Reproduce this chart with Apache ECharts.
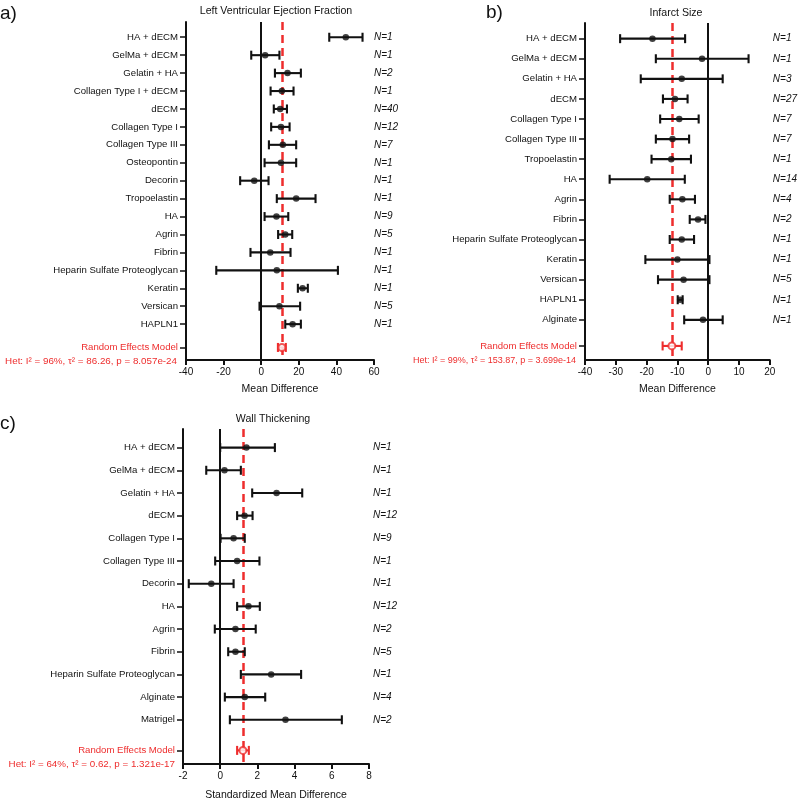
<!DOCTYPE html>
<html>
<head>
<meta charset="utf-8">
<script src="https://cdn.jsdelivr.net/npm/echarts@6/dist/echarts.min.js"></script>
<style>
  html, body { margin: 0; padding: 0; background: #fff; }
  #main { width: 800px; height: 802px; }
</style>
</head>
<body>
<div id="main"></div>
<script>
// a) Left Ventricular Ejection Fraction
var rowsA = ['HA + dECM', 'GelMa + dECM', 'Gelatin + HA', 'Collagen Type I + dECM', 'dECM', 'Collagen Type I',
    'Collagen Type III', 'Osteopontin', 'Decorin', 'Tropoelastin', 'HA', 'Agrin', 'Fibrin',
    'Heparin Sulfate Proteoglycan', 'Keratin', 'Versican', 'HAPLN1'];
var estA = [45, 2.1, 14, 11, 10.1, 10.5, 11.5, 10.5, -3.7, 18.6, 8.1, 12.8, 4.8, 8.3, 22, 9.7, 16.7];
var lowA = [36.2, -5.3, 7.3, 5, 6.7, 5.3, 4.1, 1.8, -11.2, 8.3, 1.8, 9, -5.7, -23.9, 19.5, -0.9, 12.8];
var highA = [53.9, 9.7, 21.1, 17.2, 13.7, 15.1, 18.6, 18.6, 3.9, 28.9, 14.4, 16.5, 15.6, 40.8, 24.8, 20.7, 21.1];
var nA = [1, 1, 2, 1, 40, 12, 7, 1, 1, 1, 9, 5, 1, 1, 1, 5, 1];
var pooledA = [8.9, 11.0, 13.1];
var hetA = 'Het: I² = 96%, τ² = 86.26, p = 8.057e-24';

// b) Infarct Size
var rowsB = ['HA + dECM', 'GelMa + dECM', 'Gelatin + HA', 'dECM', 'Collagen Type I', 'Collagen Type III',
    'Tropoelastin', 'HA', 'Agrin', 'Fibrin', 'Heparin Sulfate Proteoglycan', 'Keratin', 'Versican',
    'HAPLN1', 'Alginate'];
var estB = [-18.1, -2.0, -8.6, -10.8, -9.4, -11.6, -12.0, -19.8, -8.4, -3.3, -8.6, -10.0, -8.0, -9.1, -1.7];
var lowB = [-28.6, -17.0, -21.9, -14.7, -15.6, -17.0, -18.4, -32.0, -12.5, -6.0, -12.5, -20.4, -16.3, -9.9, -7.8];
var highB = [-7.5, 13.1, 4.7, -6.7, -3.1, -6.2, -5.6, -7.6, -4.3, -0.9, -4.6, 0.4, 0.4, -8.3, 4.7];
var nB = [1, 1, 3, 27, 7, 7, 1, 14, 4, 2, 1, 1, 5, 1, 1];
var pooledB = [-14.8, -11.8, -8.6];
var hetB = 'Het: I² = 99%, τ² = 153.87, p = 3.699e-14';

// c) Wall Thickening
var rowsC = ['HA + dECM', 'GelMa + dECM', 'Gelatin + HA', 'dECM', 'Collagen Type I', 'Collagen Type III',
    'Decorin', 'HA', 'Agrin', 'Fibrin', 'Heparin Sulfate Proteoglycan', 'Alginate', 'Matrigel'];
var estC = [1.41, 0.23, 3.03, 1.31, 0.72, 0.91, -0.48, 1.52, 0.82, 0.82, 2.74, 1.32, 3.51];
var lowC = [0, -0.75, 1.72, 0.91, 0.02, -0.27, -1.69, 0.91, -0.29, 0.43, 1.11, 0.25, 0.52];
var highC = [2.94, 1.11, 4.41, 1.74, 1.32, 2.11, 0.72, 2.13, 1.91, 1.32, 4.35, 2.42, 6.54];
var nC = [1, 1, 1, 12, 9, 1, 1, 12, 2, 5, 1, 4, 2];
var pooledC = [0.91, 1.22, 1.54];
var hetC = 'Het: I² = 64%, τ² = 0.62, p = 1.321e-17';

var FONT = '"Liberation Sans", Arial, sans-serif';
var RED = '#ee2d2d';
var INK = '#111';

var dom = document.getElementById('main');
var myChart = echarts.init(dom);

function barRenderer(color) {
    return function (params, api) {
        var y = api.value(2);
        var a = api.coord([api.value(0), y]);
        var b = api.coord([api.value(1), y]);
        var c = 4.5;
        var st = { stroke: color, lineWidth: 2.1 };
        return {
            type: 'group',
            children: [
                { type: 'line', shape: { x1: a[0], y1: a[1], x2: b[0], y2: b[1] }, style: st },
                { type: 'line', shape: { x1: a[0], y1: a[1] - c, x2: a[0], y2: a[1] + c }, style: st },
                { type: 'line', shape: { x1: b[0], y1: b[1] - c, x2: b[0], y2: b[1] + c }, style: st }
            ]
        };
    };
}

var option = {
    backgroundColor: '#fff',
    animation: false,
    grid: [],
    xAxis: [],
    yAxis: [],
    series: [],
    graphic: []
};

function addPanel(k, p) {
    var n = p.rows.length;
    var rePos = n - 1 + p.reGap;
    var pos = p.rows.map(function (r, i) { return i; });
    var allPos = pos.concat([rePos]);

    option.grid.push({ left: p.box[0], top: p.box[1], width: p.box[2], height: p.box[3] });

    option.xAxis.push({
        gridIndex: k,
        type: 'value',
        min: p.xr[0], max: p.xr[1], interval: p.xr[2],
        axisLine: { onZero: false, lineStyle: { color: INK, width: 2 } },
        axisTick: { length: 5, lineStyle: { color: INK, width: 2 } },
        axisLabel: { color: INK, fontSize: 10, fontFamily: FONT, margin: 7 },
        splitLine: { show: false },
        name: p.xname,
        nameLocation: 'middle',
        nameGap: p.nameGap,
        nameTextStyle: { color: INK, fontSize: 10.5, fontFamily: FONT }
    });

    option.yAxis.push({
        gridIndex: k,
        type: 'value',
        inverse: true,
        min: p.yr[0], max: p.yr[1],
        axisLine: { show: true, onZero: false, lineStyle: { color: INK, width: 2 } },
        axisTick: { show: true, customValues: allPos, length: 6, lineStyle: { color: INK, width: 1.5 } },
        axisLabel: {
            customValues: allPos,
            color: INK, fontSize: 9.6, fontFamily: FONT, margin: 8,
            formatter: function (v) {
                if (Math.abs(v - rePos) < 1e-6) return '{re|Random Effects Model}';
                return p.rows[Math.round(v)];
            },
            rich: { re: { color: RED, fontSize: 9.6, fontFamily: FONT } }
        },
        splitLine: { show: false }
    });

    option.yAxis.push({
        gridIndex: k,
        type: 'value',
        position: 'right',
        inverse: true,
        min: p.yr[0], max: p.yr[1],
        axisLine: { show: false, onZero: false },
        axisTick: { show: false },
        axisLabel: {
            customValues: pos,
            color: INK, fontSize: 10, fontStyle: 'italic', fontFamily: FONT, margin: p.nMargin,
            formatter: function (v) { return 'N=' + p.ns[Math.round(v)]; }
        },
        splitLine: { show: false }
    });

    // zero line and pooled estimate line
    option.series.push({
        type: 'scatter', xAxisIndex: k, yAxisIndex: 2 * k, data: [], z: 1,
        markLine: {
            silent: true, symbol: 'none', label: { show: false }, z: 1,
            data: [
                { xAxis: 0, lineStyle: { color: INK, width: 2, type: 'solid' } },
                { xAxis: p.pooled[1], lineStyle: { color: RED, width: 2.5, type: [8, 5] } }
            ]
        }
    });

    option.series.push({
        type: 'custom', xAxisIndex: k, yAxisIndex: 2 * k, z: 3,
        renderItem: barRenderer(INK),
        encode: { x: [0, 1], y: 2 },
        data: p.rows.map(function (r, i) { return [p.low[i], p.high[i], i]; })
    });
    option.series.push({
        type: 'custom', xAxisIndex: k, yAxisIndex: 2 * k, z: 3,
        renderItem: barRenderer(RED),
        encode: { x: [0, 1], y: 2 },
        data: [[p.pooled[0], p.pooled[2], rePos]]
    });
    option.series.push({
        type: 'scatter', xAxisIndex: k, yAxisIndex: 2 * k, z: 4,
        symbolSize: 6.5, itemStyle: { color: INK },
        data: p.est.map(function (v, i) { return [v, i]; })
    });
    option.series.push({
        type: 'scatter', xAxisIndex: k, yAxisIndex: 2 * k, z: 5,
        symbolSize: 7, itemStyle: { color: '#fff', borderColor: RED, borderWidth: 2 },
        data: [[p.pooled[1], rePos]]
    });

    option.graphic.push(
        { type: 'text', x: p.letter[0], y: p.letter[1],
          style: { text: p.letter[2], font: '19px ' + FONT, fill: INK, verticalAlign: 'middle' } },
        { type: 'text', x: p.title[0], y: p.title[1],
          style: { text: p.title[2], font: '10.6px ' + FONT, fill: INK, align: 'center', verticalAlign: 'middle' } },
        { type: 'text', x: p.het[0], y: p.het[1],
          style: { text: p.het[2], font: p.het[3] + 'px ' + FONT, fill: RED, align: 'right', verticalAlign: 'middle' } }
    );
}

addPanel(0, {
    rows: rowsA, est: estA, low: lowA, high: highA, ns: nA, pooled: pooledA,
    box: [186, 22, 188, 338], xr: [-40, 60, 20], yr: [-0.85, 18.0], reGap: 1.3,
    xname: 'Mean Difference', nameGap: 24, nMargin: 0,
    letter: [0, 14, 'a)'], title: [276, 11, 'Left Ventricular Ejection Fraction'],
    het: [177, 361, hetA, 9.8]
});
addPanel(1, {
    rows: rowsB, est: estB, low: lowB, high: highB, ns: nB, pooled: pooledB,
    box: [585, 23, 187, 337], xr: [-40, 20, 10], yr: [-0.78, 16.0], reGap: 1.3,
    xname: 'Mean Difference', nameGap: 24, nMargin: 3,
    letter: [486, 13, 'b)'], title: [676, 13, 'Infarct Size'],
    het: [576, 361, hetB, 9]
});
addPanel(2, {
    rows: rowsC, est: estC, low: lowC, high: highC, ns: nC, pooled: pooledC,
    box: [183, 429, 186, 337], xr: [-2, 8, 2], yr: [-0.82, 13.95], reGap: 1.35,
    xname: 'Standardized Mean Difference', nameGap: 26, nMargin: 4,
    letter: [0, 424, 'c)'], title: [273, 419, 'Wall Thickening'],
    het: [175, 764, hetC, 9.8]
});

myChart.setOption(option);
</script>
</body>
</html>
